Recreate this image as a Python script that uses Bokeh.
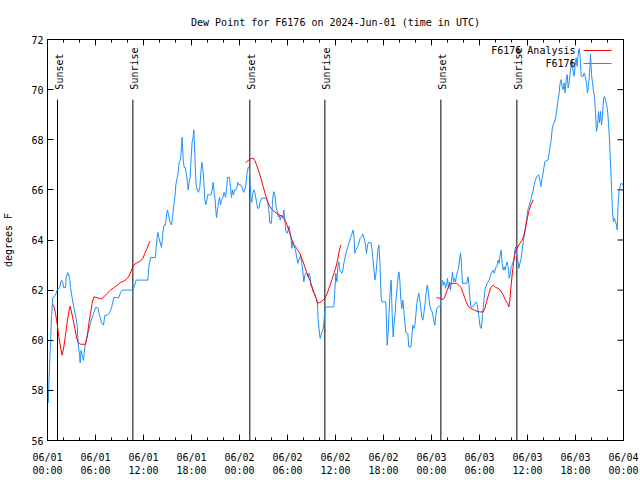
import math
from bokeh.plotting import figure
from bokeh.models import FixedTicker, Range1d, Label
from bokeh.core.properties import value
from bokeh.embed import file_html
from bokeh.resources import INLINE

FONT = "DejaVu Sans Mono"
BLUE = "#1e90ff"
RED = "#ff0000"

TITLE = "Dew Point for F6176 on 2024-Jun-01 (time in UTC)"
Y_LABEL = "degrees F"
SERIES_NAMES = ["F6176 Analysis", "F6176"]

# hours since 2024-06-01 00:00 UTC
x_tick_hours = [0, 6, 12, 18, 24, 30, 36, 42, 48, 54, 60, 66, 72]
x_minor_hours = list(range(0, 73, 2))
x_tick_labels = ["06/01\n00:00", "06/01\n06:00", "06/01\n12:00", "06/01\n18:00",
                 "06/02\n00:00", "06/02\n06:00", "06/02\n12:00", "06/02\n18:00",
                 "06/03\n00:00", "06/03\n06:00", "06/03\n12:00", "06/03\n18:00",
                 "06/04\n00:00"]
y_ticks = [56, 58, 60, 62, 64, 66, 68, 70, 72]

# observed dew point (F6176)
obs_hours = [
    0.1, 0.17, 0.375, 0.5, 0.66, 1.0, 1.2, 1.5, 1.75, 1.9, 2.04, 2.25, 2.33, 2.54, 2.75, 2.875,
    3.08, 3.29, 3.5, 3.71, 3.83, 4.0, 4.08, 4.2, 4.33, 4.5, 4.66, 4.75, 4.96, 5.17, 5.375, 5.58,
    5.79, 6.0, 6.29, 6.5, 6.75, 7.0, 7.17, 7.46, 7.75, 8.0, 8.29, 8.58, 8.92, 9.125, 9.33, 9.75,
    10.67, 10.9, 11.08, 12.54, 12.66, 12.875, 13.5,
    13.58, 13.71, 13.79, 13.92, 14.08, 14.25, 14.42, 14.58, 14.75, 14.875, 15.0, 15.125, 15.33,
    15.5, 15.625, 15.75, 15.92, 16.04, 16.17, 16.33, 16.46, 16.625, 16.75, 16.83, 16.96, 17.08,
    17.21, 17.33, 17.5, 17.58, 17.71, 17.83, 17.96, 18.08, 18.21, 18.29, 18.375, 18.46, 18.58,
    18.71, 18.875, 19.04, 19.17, 19.29, 19.42, 19.54, 19.67, 19.79, 19.92, 20.04, 20.42, 20.58,
    20.71, 20.83, 20.96, 21.04, 21.125, 21.25, 21.375, 21.5, 21.625, 21.75, 21.92, 22.08, 22.25,
    22.375, 22.5, 22.75, 22.875, 23.0, 23.125, 23.25, 23.375, 23.54, 23.67, 23.79, 23.92, 24.17,
    24.33, 24.5, 24.67, 24.83, 24.96, 25.08, 25.21, 25.29, 25.42, 25.54, 25.625, 25.79, 25.92,
    26.125, 26.25, 26.42, 26.54, 26.75, 27.375, 27.5, 27.67, 27.79, 28.0, 28.125, 28.29, 28.42,
    28.54, 28.67, 28.83, 28.96, 29.08, 29.25, 29.42, 29.54, 29.67, 29.79, 29.96, 30.08, 30.21,
    30.33, 30.46, 30.54, 30.67, 30.79, 30.92, 31.04, 31.17, 31.29, 31.42, 31.54, 31.67, 31.79,
    31.92, 32.04, 32.17, 32.29, 32.42, 32.54, 32.71, 32.83, 32.92, 33.08, 33.21, 33.375, 33.5,
    33.625, 33.75, 33.83, 33.96, 34.08, 34.25, 34.42, 34.54, 34.67, 34.79, 35.79, 35.92, 36.04,
    36.17, 36.29, 36.42, 36.54, 36.67, 36.79, 36.92, 37.04, 37.17, 37.29, 37.42, 37.54, 37.67,
    37.79, 37.92,
    38.08, 38.21, 38.33, 38.42, 38.58, 38.75, 38.92, 39.08, 39.25, 39.42, 39.58, 39.75, 39.875,
    40.0, 40.17, 40.42, 40.58, 40.71, 40.83, 40.92, 41.04, 41.17, 41.29, 41.42, 41.54, 41.625,
    41.71, 41.83, 42.29, 42.375, 42.46, 42.58, 42.71, 42.83, 42.96, 43.08, 43.21, 43.33, 43.46,
    43.58, 43.71, 43.83, 43.92, 44.04, 44.17, 44.29, 44.42, 44.54, 44.67, 44.79, 44.92, 45.04,
    45.17, 45.42, 45.54, 45.67, 45.79, 45.92, 46.04, 46.17, 46.29, 46.42, 46.54, 46.67, 46.79,
    46.92, 47.04, 47.17, 47.33, 47.46, 47.58, 47.71, 47.83, 47.96, 48.08, 48.21, 48.33, 48.42,
    48.54, 48.67, 48.79, 49.0, 49.125,
    49.25, 49.375, 49.5, 49.625, 49.75, 49.875, 50.0, 50.125, 50.25, 50.375, 50.5, 50.625, 50.75,
    50.875, 51.0, 51.125, 51.25, 51.375, 51.5, 51.625, 51.75, 51.875, 52.17, 52.42, 52.54, 52.67,
    52.79, 52.92, 53.17, 53.42, 53.58, 53.71, 53.83, 53.96, 54.08, 54.21, 54.33, 54.46, 54.58,
    54.71, 54.83, 54.96, 55.08, 55.21, 55.33, 55.46, 55.58, 55.71, 55.83, 55.96, 56.08, 56.21,
    56.33, 56.46, 56.58, 56.71, 56.83, 56.96, 57.08, 57.21, 57.33, 57.46, 57.58, 57.71, 57.83,
    57.96, 58.08, 58.21, 58.33, 58.42, 58.54, 58.67, 58.79, 58.92, 59.04, 59.17, 59.29, 59.42,
    59.54, 59.67, 59.79, 59.92, 60.04, 60.17, 60.29,
    60.42, 60.54, 60.67, 60.79, 60.92, 61.08, 61.25, 61.42, 61.58, 61.67, 61.79, 61.92, 62.04,
    62.17, 62.58, 62.71, 62.83, 62.96, 63.08, 63.21, 63.33, 63.46, 63.58, 63.71, 63.83, 63.96,
    64.08, 64.21, 64.33, 64.46, 64.58, 64.71, 64.83, 64.96, 65.08, 65.21, 65.33, 65.46, 65.58,
    65.71, 65.83, 65.96, 66.08, 66.21, 66.33, 66.46, 66.58, 66.71, 66.83, 66.96, 67.08, 67.21,
    67.375, 67.5, 67.625, 67.75, 67.875, 68.0, 68.125, 68.25, 68.375, 68.5, 68.625, 68.75,
    68.875, 69.0, 69.125, 69.25, 69.375, 69.5, 69.625, 69.75, 69.875, 70.0, 70.125, 70.25,
    70.375, 70.5, 70.625, 70.75, 70.875, 71.0, 71.125, 71.21, 71.33, 71.46, 71.58, 71.71, 71.95,
]
obs_dewpoint = [
    57.5, 58.3, 59.9, 60.9, 61.7, 61.8, 62.0, 62.1, 62.4, 62.3, 62.1, 62.1, 62.5, 62.7, 62.5, 62.1,
    61.7, 61.3, 61.0, 60.6, 59.9, 59.4, 59.1, 59.6, 59.4, 59.2, 59.7, 59.9, 60.2, 60.4, 60.7, 60.9,
    61.1, 61.3, 61.3, 61.0, 60.7, 60.6, 61.0, 61.0, 61.1, 61.3, 61.7, 61.7, 61.7, 61.9, 62.0, 62.0,
    62.0, 62.2, 62.4, 62.4, 62.9, 63.3, 63.3,
    63.7, 64.1, 64.3, 64.1, 63.9, 63.7, 64.3, 64.6, 64.6, 65.0, 65.2, 65.0, 64.7,
    64.6, 64.9, 65.3, 65.7, 66.2, 66.4, 66.7, 67.1, 67.2, 67.7, 68.1, 67.2, 66.9,
    66.9, 66.7, 66.3, 66.0, 66.3, 66.5, 67.3, 67.9, 68.1, 68.4, 67.8, 67.0, 66.2,
    66.0, 65.9, 66.1, 66.7, 67.1, 66.8, 66.3, 65.6, 65.4, 65.6, 65.8, 65.8, 66.0,
    66.3, 65.9, 65.6, 65.2, 64.9, 65.2, 65.5, 65.7, 65.4, 65.6, 65.7, 65.9, 65.7,
    66.0, 66.5, 66.5, 66.1, 65.7, 66.0, 65.8, 66.0, 66.0, 66.1, 66.3, 66.2, 66.2,
    66.1, 65.9, 66.0, 66.3, 66.7, 66.9, 66.9, 66.5, 65.7, 65.5, 65.8, 66.0, 65.9,
    65.53, 65.27, 65.27, 65.47, 65.67, 65.67, 65.53, 65.2, 64.67, 64.67, 65.6, 65.93, 65.8,
    65.4, 65.2, 64.93, 65.0, 64.8, 65.0, 64.87, 65.2, 64.8, 64.33, 64.27, 64.4, 64.56,
    64.27, 64.0, 63.67, 63.93, 63.8, 63.67, 63.53, 63.27, 63.07, 63.2, 63.33, 63.33, 63.07,
    62.73, 62.33, 62.6, 62.67, 62.67, 62.53, 62.67, 62.53, 62.2, 62.07, 61.93, 61.87, 61.73,
    61.67, 61.47, 60.8, 60.4, 60.07, 60.27, 60.4, 60.67, 61.2, 61.33, 61.33, 62.0, 62.67,
    62.33, 62.93, 63.13, 62.8, 62.73, 62.67, 62.8, 63.07, 63.27, 63.47, 63.6, 63.73, 63.87,
    64.0, 64.13,
    64.27, 64.4, 64.07, 63.47, 63.63, 63.73, 63.87, 64.07, 64.13, 64.24, 64.07, 63.8, 63.47,
    63.8, 63.91, 63.9, 63.6, 63.13, 62.73, 62.4, 62.6, 63.07, 63.6, 63.8, 63.2, 62.4,
    61.67, 61.53, 61.53, 60.67, 59.8, 60.27, 61.2, 61.93, 62.4, 61.07, 60.13, 60.67, 61.07,
    61.73, 62.13, 62.53, 62.73, 62.4, 61.6, 61.27, 61.6, 61.2, 60.73, 60.33, 60.27, 60.27,
    59.73, 59.73, 60.13, 60.6, 60.47, 60.6, 61.0, 61.47, 61.73, 61.87, 61.6, 61.27, 60.93,
    60.8, 61.07, 61.4, 61.87, 62.2, 62.0, 61.6, 61.33, 61.2, 61.13, 60.93, 60.73, 60.6,
    61.0, 61.27, 61.33, 61.36, 61.4,
    62.13, 62.4, 62.2, 62.33, 62.07, 62.2, 62.47, 62.07, 62.33, 62.0, 62.4, 62.73, 62.33,
    62.47, 62.33, 62.6, 62.73, 62.87, 63.2, 63.49, 63.0, 62.27, 62.27, 62.27, 62.53, 62.27,
    61.73, 61.33, 61.33, 61.47, 61.53, 61.44, 61.13, 60.87, 60.53, 60.47, 60.8, 61.27, 61.67,
    62.07, 62.16, 62.27, 62.33, 62.4, 62.53, 62.67, 62.73, 62.8, 62.67, 62.8, 62.93, 63.0,
    63.2, 63.07, 63.4, 63.6, 63.07, 62.8, 62.93, 62.8, 63.0, 63.13, 62.93, 62.47, 62.6,
    62.93, 63.0, 63.13, 63.27, 63.6, 63.73, 63.4, 63.2, 62.87, 63.07, 63.2, 63.47, 63.8,
    64.07, 64.33, 64.6, 64.87, 65.2, 65.33, 65.47,
    65.6, 65.8, 65.93, 66.13, 66.33, 66.47, 66.56, 66.6, 66.33, 66.13, 66.4, 66.6, 66.87,
    67.13, 67.2, 67.47, 67.73, 68.0, 68.4, 68.6, 68.67, 68.8, 69.0, 69.33, 69.6, 69.87,
    70.27, 70.4, 70.13, 70.0, 70.27, 69.87, 70.4, 70.6, 70.07, 70.27, 70.67, 70.93, 71.2,
    70.73, 70.53, 71.0, 71.27, 70.93, 71.4, 71.63, 71.33, 70.53, 70.53, 70.53, 70.67, 70.53,
    70.27, 69.87, 70.13, 70.67, 71.4, 70.6, 70.27, 69.93, 69.73, 69.07, 68.33, 68.53,
    69.13, 68.67, 69.13, 68.6, 68.93, 69.67, 69.73, 69.6, 69.4, 69.2, 68.67, 68.0,
    67.07, 66.13, 65.13, 64.73, 64.87, 64.73, 64.6, 64.4, 65.47, 66.0, 66.13, 66.27, 66.2,
]

# analysis (F6176 Analysis), three 12-hour runs
ana1_hours = [0.66, 0.85, 1.0, 1.2, 1.42, 1.625, 1.83, 2.04, 2.25, 2.46, 2.67, 2.83, 3.0, 3.21,
              3.42, 3.625, 3.83, 4.125, 4.54, 4.75, 4.96, 5.17, 5.375, 5.58, 5.79, 6.21, 6.625,
              6.83, 7.04, 7.46, 7.875, 8.29, 8.71, 9.125, 9.54, 9.96, 10.25, 10.5, 10.75, 11.08,
              11.625, 11.92, 12.17, 12.46, 12.67, 12.83]
ana1_dewpoint = [61.44, 61.3, 61.07, 60.67, 60.13, 59.73, 59.4, 59.73, 60.2, 60.73, 61.13, 61.36,
                 61.13, 60.8, 60.47, 60.13, 59.9, 59.84, 59.84, 59.84, 60.13, 60.67, 61.07, 61.47,
                 61.73, 61.7, 61.65, 61.65, 61.73, 61.87, 62.0, 62.1, 62.2, 62.3, 62.36, 62.47,
                 62.6, 62.8, 63.0, 63.07, 63.16, 63.27, 63.47, 63.67, 63.87, 63.96]
ana2_hours = [24.75, 25.08, 25.42, 25.71, 25.92, 26.125, 26.42, 26.67, 26.96, 27.25, 27.5, 27.79,
              28.21, 28.625, 29.04, 29.46, 29.79, 30.08, 30.42, 30.71, 31.125, 31.54, 31.96,
              32.375, 32.79, 33.08, 33.33, 33.58, 33.75, 34.04, 34.33, 34.67, 34.96, 35.25, 35.54,
              35.83, 36.125, 36.375, 36.54, 36.67]
ana2_dewpoint = [67.09, 67.17, 67.24, 67.27, 67.17, 67.0, 66.73, 66.47, 66.13, 65.8, 65.53, 65.33,
                 65.17, 65.07, 65.0, 64.91, 64.73, 64.47, 64.13, 63.87, 63.67, 63.47, 63.13, 62.73,
                 62.4, 62.13, 61.87, 61.67, 61.47, 61.51, 61.57, 61.67, 61.87, 62.13, 62.4, 62.69,
                 63.0, 63.4, 63.67, 63.8]
ana3_hours = [48.625, 49.04, 49.46, 49.67, 49.875, 50.17, 50.42, 50.71, 51.125, 51.42, 51.67,
              51.96, 52.25, 52.58, 52.92, 53.21, 53.625, 54.04, 54.46, 54.67, 54.875, 55.17, 55.42,
              55.71, 56.0, 56.33, 56.67, 56.96, 57.25, 57.5, 57.67, 57.79, 57.92, 58.08, 58.25,
              58.42, 58.625, 58.92, 59.17, 59.33, 59.5, 59.67, 59.83, 60.0, 60.17, 60.42, 60.71]
ana3_dewpoint = [61.71, 61.67, 61.63, 61.73, 61.93, 62.16, 62.27, 62.27, 62.27, 62.2, 62.11, 61.87,
                 61.6, 61.36, 61.27, 61.23, 61.16, 61.13, 61.13, 61.27, 61.53, 61.87, 62.11, 62.2,
                 62.11, 62.07, 61.97, 61.8, 61.6, 61.47, 61.33, 61.6, 62.07, 62.6, 63.07, 63.47,
                 63.63, 63.8, 63.93, 64.0, 64.15, 64.35, 64.6, 64.9, 65.15, 65.4, 65.6]

# sunset / sunrise events (hours since start)
sun_hours = [1.25, 10.67, 25.29, 34.67, 49.17, 58.67]
sun_labels = ["Sunset", "Sunrise", "Sunset", "Sunrise", "Sunset", "Sunrise"]
SUN_LINE_TOP = 69.6
SUN_LABEL_Y = 70.0

X_MIN, X_MAX = 0, 72
Y_MIN, Y_MAX = 56, 72
FRAME_W, FRAME_H = 576, 401

p = figure(frame_width=FRAME_W, frame_height=FRAME_H, output_backend="svg", toolbar_location=None,
           x_range=Range1d(X_MIN, X_MAX), y_range=Range1d(Y_MIN, Y_MAX),
           min_border_left=46, min_border_right=18, min_border_top=39, min_border_bottom=40,
           title=TITLE)
p.title.text_font = FONT
p.title.text_font_size = "10px"
p.title.text_font_style = "normal"
p.title.text_color = "black"
p.title.align = "center"
p.title.standoff = 23
p.xgrid.visible = False
p.ygrid.visible = False
p.outline_line_color = "black"
p.outline_line_width = 1
p.background_fill_color = "white"
p.border_fill_color = "white"

xt = FixedTicker(ticks=x_tick_hours, minor_ticks=x_minor_hours)
yt = FixedTicker(ticks=y_ticks, minor_ticks=[])

def style_axis(ax):
    ax.axis_line_color = "black"
    ax.major_tick_line_color = "black"
    ax.minor_tick_line_color = "black"
    ax.major_tick_in = 6
    ax.major_tick_out = 0
    ax.minor_tick_in = 3
    ax.minor_tick_out = 0
    ax.major_label_text_font = FONT
    ax.major_label_text_color = "black"
    ax.major_label_text_font_size = "10px"

xa = p.xaxis[0]
xa.ticker = xt
xa.major_label_overrides = {h: lab for h, lab in zip(x_tick_hours, x_tick_labels)}
style_axis(xa)
xa.major_label_standoff = 11

ya = p.yaxis[0]
ya.ticker = yt
style_axis(ya)
ya.major_label_standoff = 4
ya.axis_label = Y_LABEL
ya.axis_label_text_font = FONT
ya.axis_label_text_font_size = "10px"
ya.axis_label_text_font_style = "normal"
ya.axis_label_text_color = "black"
ya.axis_label_standoff = 14

# mirrored ticks on the top and right borders (clipped half-dashes)
p.scatter(x=x_tick_hours, y=[Y_MAX] * len(x_tick_hours), marker="dash", angle=math.pi / 2,
          size=12, line_color="black", line_width=1)
p.scatter(x=x_minor_hours, y=[Y_MAX] * len(x_minor_hours), marker="dash", angle=math.pi / 2,
          size=6, line_color="black", line_width=1)
p.scatter(x=[X_MAX] * len(y_ticks), y=y_ticks, marker="dash",
          size=12, line_color="black", line_width=1)

# sunrise / sunset markers
p.segment(x0=sun_hours, y0=[Y_MIN] * len(sun_hours), x1=sun_hours, y1=[SUN_LINE_TOP] * len(sun_hours),
          line_color="black", line_width=1)
p.text(x=sun_hours, y=[SUN_LABEL_Y] * len(sun_hours), text=sun_labels, angle=math.pi / 2,
       text_align="left", text_baseline="alphabetic", x_offset=2,
       text_font=value(FONT), text_font_size="10px", text_color="black")

# analysis line (gaps between runs)
nan = float("nan")
ana_x = ana1_hours + [nan] + ana2_hours + [nan] + ana3_hours
ana_y = ana1_dewpoint + [nan] + ana2_dewpoint + [nan] + ana3_dewpoint
p.line(obs_hours, obs_dewpoint, line_color=BLUE, line_width=1)
p.line(ana_x, ana_y, line_color=RED, line_width=1)

# key in the top right corner: label, then a line sample to its right
hpp = (X_MAX - X_MIN) / FRAME_W
dpp = (Y_MAX - Y_MIN) / FRAME_H
for i, (name, col) in enumerate(zip(SERIES_NAMES, [RED, BLUE])):
    dy = 11 + 13 * i
    p.add_layout(Label(x=X_MAX, y=Y_MAX, text=name, x_offset=-48, y_offset=-dy,
                       text_align="right", text_baseline="middle",
                       text_font=FONT, text_font_size="10px", text_color="black"))
    p.segment(x0=[X_MAX - 40 * hpp], x1=[X_MAX - 12 * hpp],
              y0=[Y_MAX - dy * dpp], y1=[Y_MAX - dy * dpp], line_color=col, line_width=1)

open("out.html", "w").write(file_html(p, INLINE))
